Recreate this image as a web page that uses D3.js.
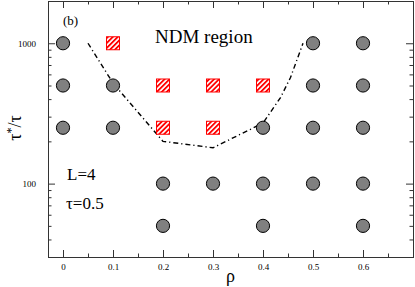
<!DOCTYPE html>
<html>
<head>
<meta charset="utf-8">
<script src="https://cdn.jsdelivr.net/npm/d3@7/dist/d3.min.js"></script>
<style>
  body { margin: 0; background: #fff; }
  svg text { font-family: "Liberation Serif", "DejaVu Serif", serif; }
</style>
</head>
<body>
<div id="chart"></div>
<script>
const W = 415, H = 287;

// stable points (gray circles)
const circleRho = [0, 0, 0, 0.1, 0.1, 0.2, 0.2, 0.3, 0.4, 0.4, 0.4, 0.5, 0.5, 0.5, 0.5, 0.6, 0.6, 0.6, 0.6, 0.6];
const circleTau = [1000, 500, 250, 500, 250, 100, 50, 100, 250, 100, 50, 1000, 500, 250, 100, 1000, 500, 250, 100, 50];

// NDM points (red hatched squares)
const squareRho = [0.1, 0.2, 0.2, 0.3, 0.3, 0.4];
const squareTau = [1000, 500, 250, 500, 250, 500];

// boundary line
const lineRho = [0.05, 0.1, 0.2, 0.3, 0.4, 0.435, 0.455, 0.48];
const lineTau = [1000, 520, 200, 180, 270, 410, 570, 1000];

const xTicks = [0, 0.1, 0.2, 0.3, 0.4, 0.5, 0.6];
const xMinor = [0.05, 0.15, 0.25, 0.35, 0.45, 0.55, 0.65];
const yTicks = [100, 1000];
const yMinor = [40, 50, 60, 70, 80, 90, 200, 300, 400, 500, 600, 700, 800, 900];

const m = {l: 48, r: 2, t: 1, b: 30};

const svg = d3.select('#chart').append('svg')
    .attr('width', W).attr('height', H);

const x = d3.scaleLinear().domain([-0.03, 0.7]).range([m.l, W - m.r]);
const y = d3.scaleLog().domain([30, 2000]).range([H - m.b, m.t]);

// hatch pattern
const defs = svg.append('defs');
const pat = defs.append('pattern')
    .attr('id', 'hatch')
    .attr('patternUnits', 'userSpaceOnUse')
    .attr('width', 3.5).attr('height', 3.5)
    .attr('patternTransform', 'rotate(45)');
pat.append('rect').attr('width', 3.5).attr('height', 3.5).attr('fill', '#fff');
pat.append('rect').attr('width', 1.8).attr('height', 3.5).attr('fill', '#f00');

const axisColor = '#333';

// axes, ticks inward on all sides
const gx = svg.append('g').attr('transform', `translate(0,${H - m.b})`)
    .call(d3.axisBottom(x).tickValues(xTicks).tickSize(-7).tickPadding(10).tickFormat(d3.format('')));
gx.selectAll('.tick text').attr('dy', '0.3em');
svg.append('g').attr('transform', `translate(0,${H - m.b})`)
    .call(d3.axisBottom(x).tickValues(xMinor).tickSize(-3.5).tickFormat(''));
svg.append('g').attr('transform', `translate(0,${m.t})`)
    .call(d3.axisTop(x).tickValues(xTicks).tickSize(-7).tickFormat(''));
svg.append('g').attr('transform', `translate(0,${m.t})`)
    .call(d3.axisTop(x).tickValues(xMinor).tickSize(-3.5).tickFormat(''));

svg.append('g').attr('transform', `translate(${m.l},0)`)
    .call(d3.axisLeft(y).tickValues(yTicks).tickSize(-7).tickPadding(12).tickFormat(d3.format('d')));
svg.append('g').attr('transform', `translate(${m.l},0)`)
    .call(d3.axisLeft(y).tickValues(yMinor).tickSize(-3.5).tickFormat(''));
svg.append('g').attr('transform', `translate(${W - m.r},0)`)
    .call(d3.axisRight(y).tickValues(yTicks).tickSize(-7).tickFormat(''));
svg.append('g').attr('transform', `translate(${W - m.r},0)`)
    .call(d3.axisRight(y).tickValues(yMinor).tickSize(-3.5).tickFormat(''));

svg.selectAll('.domain').attr('stroke', axisColor);
svg.selectAll('.tick line').attr('stroke', axisColor);
svg.selectAll('.tick text')
    .attr('font-family', '"Liberation Serif", serif')
    .attr('font-size', 9).attr('fill', '#000');

// boundary line
const line = d3.line().x((d, i) => x(lineRho[i])).y((d, i) => y(lineTau[i]));
svg.append('path')
    .attr('d', line(lineRho))
    .attr('fill', 'none')
    .attr('stroke', '#000')
    .attr('stroke-width', 1.4)
    .attr('stroke-dasharray', '5,3,1.2,3');

// circles
svg.selectAll('circle.st')
    .data(circleRho)
    .enter().append('circle')
    .attr('class', 'st')
    .attr('cx', (d, i) => x(d))
    .attr('cy', (d, i) => y(circleTau[i]))
    .attr('r', 6.6)
    .attr('fill', '#808080')
    .attr('stroke', '#000')
    .attr('stroke-width', 1);

// squares
const s = 13;
svg.selectAll('rect.ndm')
    .data(squareRho)
    .enter().append('rect')
    .attr('class', 'ndm')
    .attr('x', d => x(d) - s / 2)
    .attr('y', (d, i) => y(squareTau[i]) - s / 2)
    .attr('width', s).attr('height', s)
    .attr('fill', 'url(#hatch)')
    .attr('stroke', '#f00')
    .attr('stroke-width', 1);

// labels
svg.append('text').attr('x', 63).attr('y', 25).attr('font-size', 13).text('(b)');
svg.append('text').attr('x', 155).attr('y', 43).attr('font-size', 19).text('NDM region');
svg.append('text').attr('x', 67).attr('y', 180).attr('font-size', 17).text('L=4');
svg.append('text').attr('x', 66).attr('y', 209).attr('font-size', 17).text('τ=0.5');

svg.append('text')
    .attr('x', x(0.335)).attr('y', 282)
    .attr('text-anchor', 'middle')
    .attr('font-size', 18)
    .text('ρ');

const yl = svg.append('text')
    .attr('transform', 'translate(21,128) rotate(-90)')
    .attr('text-anchor', 'middle')
    .attr('font-size', 18);
yl.append('tspan').text('τ');
yl.append('tspan').attr('dy', -6).attr('font-size', 12).text('*');
yl.append('tspan').attr('dy', 6).text('/τ');
</script>
</body>
</html>
